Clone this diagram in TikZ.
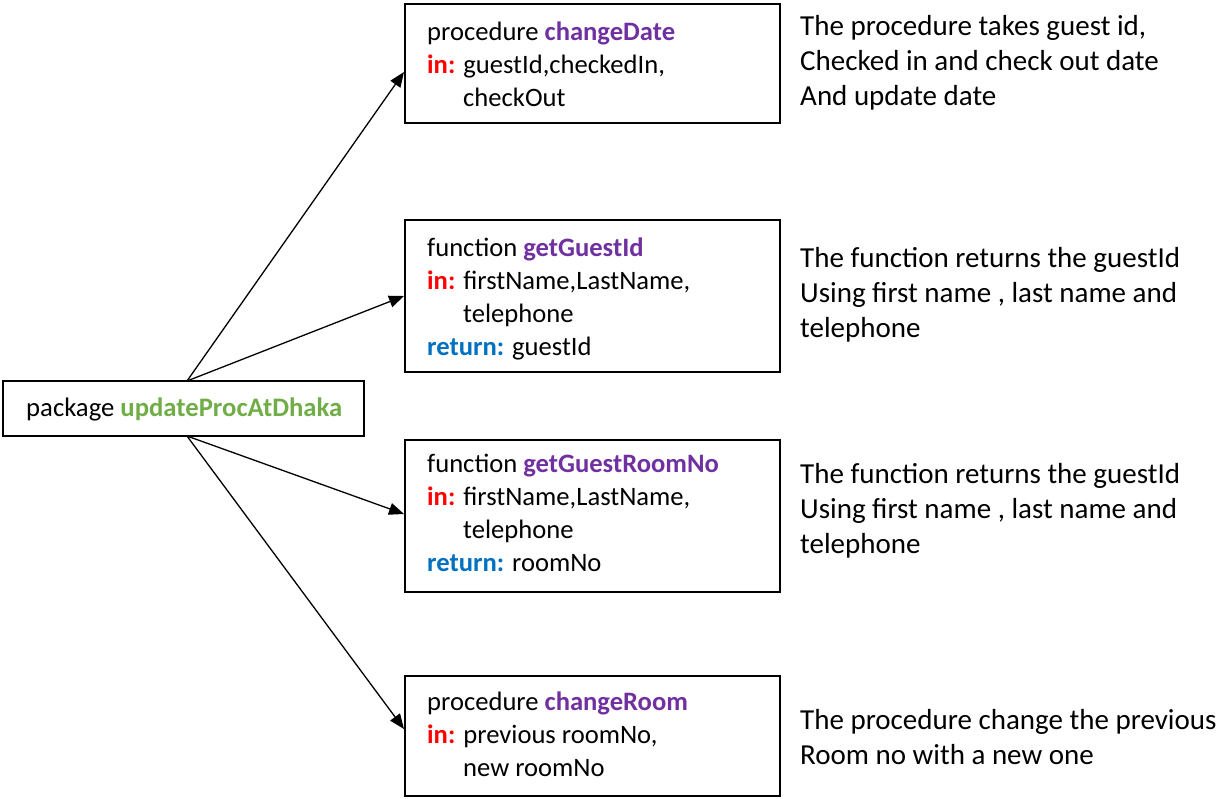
\documentclass[tikz,border=0pt]{standalone}
\usepackage{fontspec}
\setmainfont{Carlito}
\usetikzlibrary{arrows.meta}
\definecolor{cpurple}{HTML}{7030A0}
\definecolor{cred}{HTML}{FF0000}
\definecolor{cblue}{HTML}{0070C0}
\definecolor{cgreen}{HTML}{70AD47}
\tikzset{
  boxframe/.style={draw, line width=2.5pt},
  boxtext/.style={anchor=north west, inner sep=0pt, align=left, font=\fontsize{26.6}{33}\selectfont},
  notetext/.style={anchor=north west, inner sep=0pt, align=left, font=\fontsize{29}{35}\selectfont},
  conn/.style={line width=1.3pt, -{Triangle[length=15pt,width=12pt]}},
}
\newcommand{\nm}[1]{\textcolor{cpurple}{\textbf{#1}}}
\newcommand{\kin}{\textcolor{cred}{\textbf{in:}}}
\newcommand{\kret}{\textcolor{cblue}{\textbf{return:}}}
\newcommand{\ind}{\hspace*{36pt}}
\begin{document}
\begin{tikzpicture}[x=1pt,y=-1pt]
\useasboundingbox (0,0) rectangle (1223,798);
% boxes
\draw[boxframe] (3,381) rectangle (364,436);
\node[anchor=west, inner sep=0pt, font=\fontsize{26.7}{32}\selectfont] (pkg) at (26,409) {package \textcolor{cgreen}{\textbf{updateProcAtDhaka}}};
\draw[boxframe] (405,4) rectangle (780,123);
\draw[boxframe] (405,220) rectangle (780,372);
\draw[boxframe] (405,440) rectangle (780,592);
\draw[boxframe] (405,676) rectangle (780,796);
% box texts
\node[boxtext] (t1) at (427,22) {procedure \nm{changeDate}\\\kin{} guestId,checkedIn,\\\ind checkOut};
\node[boxtext] (t2) at (427,238) {function \nm{getGuestId}\\\kin{} firstName,LastName,\\\ind telephone\\\kret{} guestId};
\node[boxtext] (t3) at (427,454) {function \nm{getGuestRoomNo}\\\kin{} firstName,LastName,\\\ind telephone\\\kret{} roomNo};
\node[boxtext] (t4) at (427,692) {procedure \nm{changeRoom}\\\kin{} previous roomNo,\\\ind new roomNo};
% notes
\node[notetext] (n1) at (800,15) {The procedure takes guest id,\\Checked in and check out date\\And update date};
\node[notetext] (n2) at (800,247) {The function returns the guestId\\Using first name , last name and\\telephone};
\node[notetext] (n3) at (800,463) {The function returns the guestId\\Using first name , last name and\\telephone};
\node[notetext] (n4) at (800,709) {The procedure change the previous\\Room no with a new one};
% connectors
\coordinate (s1) at (187,381);
\coordinate (s2) at (187,436);
\coordinate (e1) at (404,72);
\coordinate (e2) at (404,296);
\coordinate (e3) at (404,514);
\coordinate (e4) at (404,729);
\draw[conn] (s1) -- (e1);
\draw[conn] (s1) -- (e2);
\draw[conn] (s2) -- (e3);
\draw[conn] (s2) -- (e4);
\end{tikzpicture}
\end{document}
